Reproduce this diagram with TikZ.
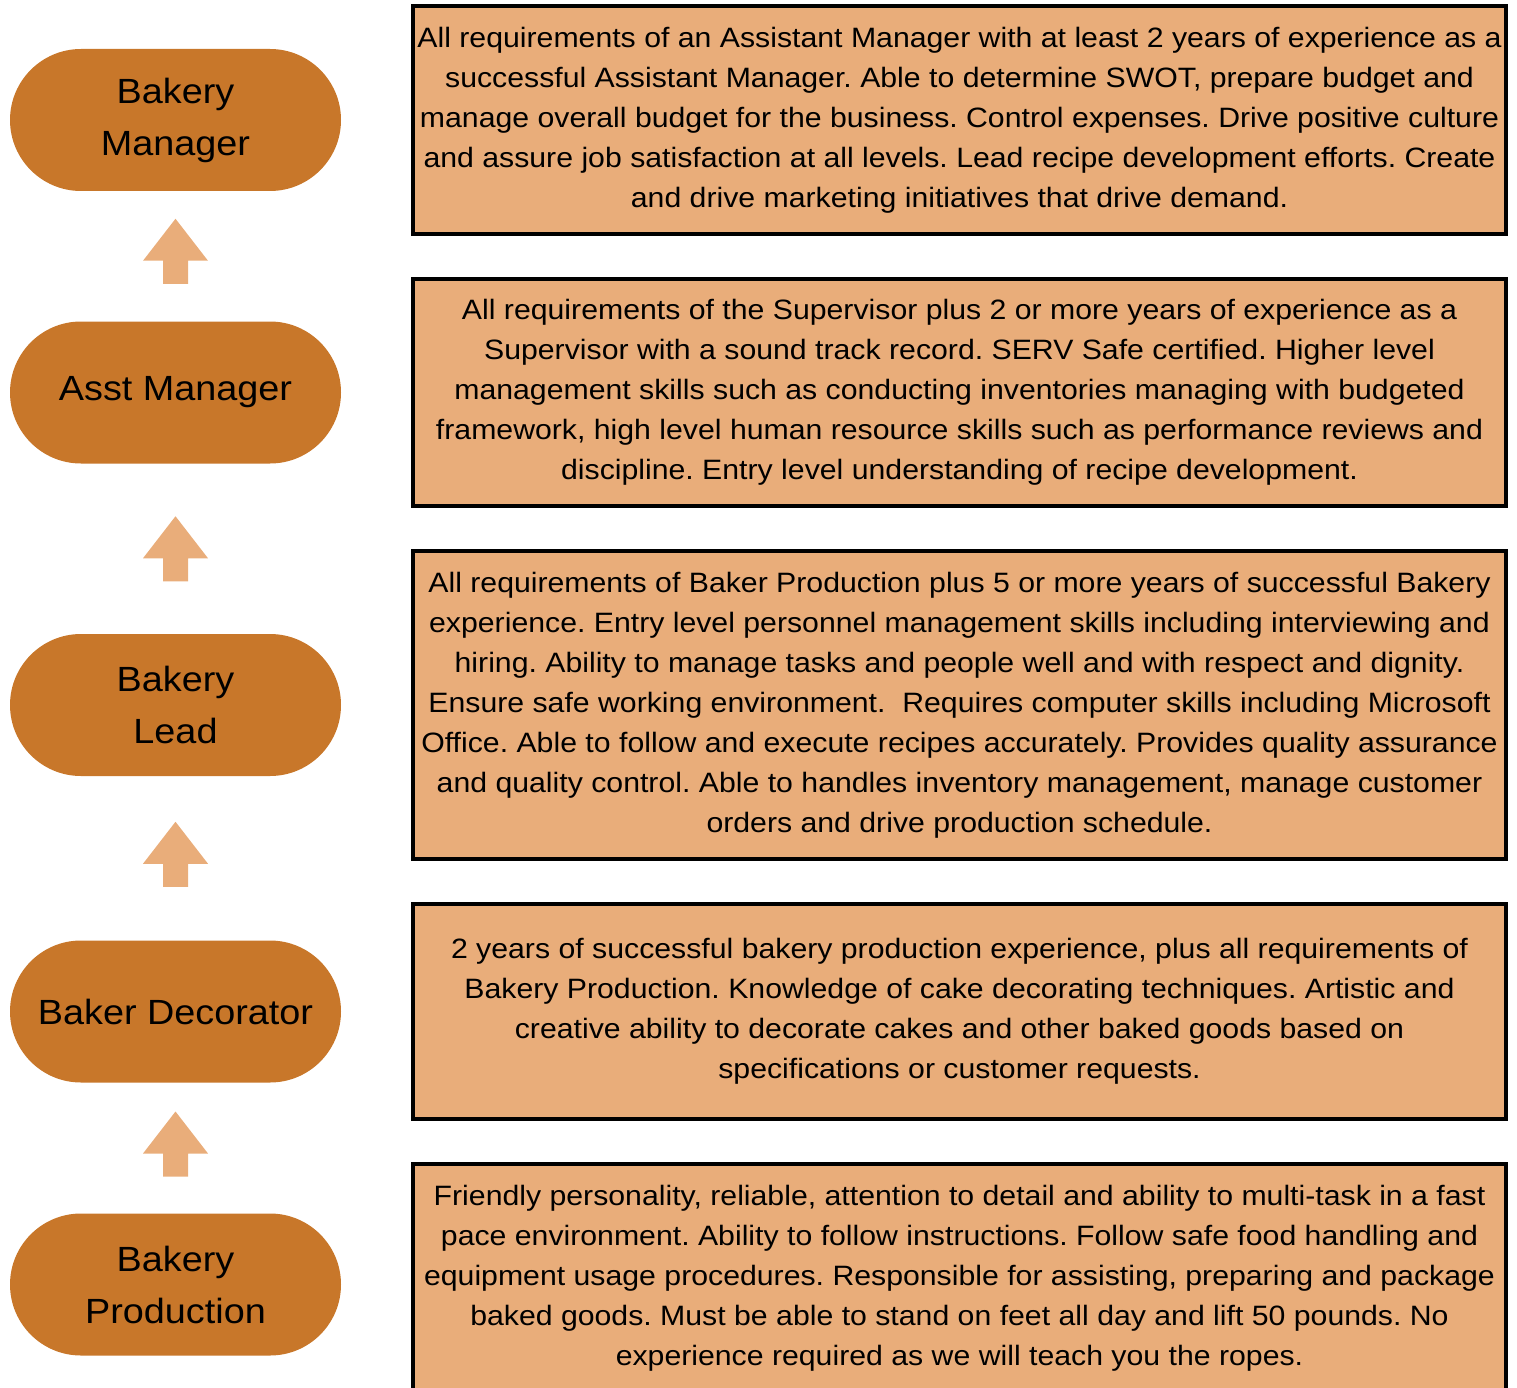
\documentclass[tikz,border=0pt]{standalone}
\usepackage{fontspec}
\setmainfont{Liberation Sans}[FakeStretch=1.08]
\usetikzlibrary{calc}
\definecolor{pill}{HTML}{C8772A}
\definecolor{peach}{HTML}{E9AD7A}
\tikzset{
    role/.style={fill=pill, rounded corners=71pt, minimum width=331pt, minimum height=142pt,
        inner sep=0, align=center, font=\fontsize{35}{52}\selectfont},
    req/.style={fill=peach, draw=black, line width=4pt, minimum width=1093pt, inner sep=0,
        align=center, font=\fontsize{28}{40}\selectfont},
    up/.pic={\fill[peach] (0,-32.5) -- (32.5,9.5) -- (12.5,9.5) -- (12.5,32.5)
        -- (-12.5,32.5) -- (-12.5,9.5) -- (-32.5,9.5) -- cycle;}
}
\frenchspacing
\begin{document}
\begin{tikzpicture}[x=1pt, y=-1pt]
    \useasboundingbox (0,0) rectangle (1517,1388);
    % career ladder
    \node[role] (manager) at (175.5,120) {Bakery\\Manager};
    \node[role] (asstmgr) at (175.5,392.5) {Asst Manager};
    \node[role] (lead) at (175.5,705) {Bakery\\Lead};
    \node[role] (decorator) at (175.5,1011.5) {Baker Decorator};
    \node[role] (production) at (175.5,1284.5) {Bakery\\Production};
    \pic at ($(manager.south)!0.5!(asstmgr.north)+(0,-5)$) {up};
    \pic at ($(asstmgr.south)!0.5!(lead.north)$) {up};
    \pic at ($(lead.south)!0.5!(decorator.north)+(0,-4)$) {up};
    \pic at ($(decorator.south)!0.5!(production.north)+(0,-4)$) {up};
    % requirements
    \node[req, minimum height=228pt] (managerreq) at (959.5,120) {All requirements of an Assistant Manager with at least 2 years of experience as a\\
        successful Assistant Manager. Able to determine SWOT, prepare budget and\\
        manage overall budget for the business. Control expenses. Drive positive culture\\
        and assure job satisfaction at all levels. Lead recipe development efforts. Create\\
        and drive marketing initiatives that drive demand.};
    \node[req, minimum height=227pt] (asstmgrreq) at (959.5,392.5) {All requirements of the Supervisor plus 2 or more years of experience as a\\
        Supervisor with a sound track record. SERV Safe certified. Higher level\\
        management skills such as conducting inventories managing with budgeted\\
        framework, high level human resource skills such as performance reviews and\\
        discipline. Entry level understanding of recipe development.};
    \node[req, minimum height=308pt] (leadreq) at (959.5,705) {All requirements of Baker Production plus 5 or more years of successful Bakery\\
        experience. Entry level personnel management skills including interviewing and\\
        hiring. Ability to manage tasks and people well and with respect and dignity.\\
        Ensure safe working environment.\ \ Requires computer skills including Microsoft\\
        Office. Able to follow and execute recipes accurately. Provides quality assurance\\
        and quality control. Able to handles inventory management, manage customer\\
        orders and drive production schedule.};
    \node[req, minimum height=215pt] (decoratorreq) at (959.5,1011.5) {2 years of successful bakery production experience, plus all requirements of\\
        Bakery Production. Knowledge of cake decorating techniques. Artistic and\\
        creative ability to decorate cakes and other baked goods based on\\
        specifications or customer requests.};
    \node[req, minimum height=228pt] (productionreq) at (959.5,1278) {Friendly personality, reliable, attention to detail and ability to multi-task in a fast\\
        pace environment. Ability to follow instructions. Follow safe food handling and\\
        equipment usage procedures. Responsible for assisting, preparing and package\\
        baked goods. Must be able to stand on feet all day and lift 50 pounds. No\\
        experience required as we will teach you the ropes.};
\end{tikzpicture}
\end{document}
